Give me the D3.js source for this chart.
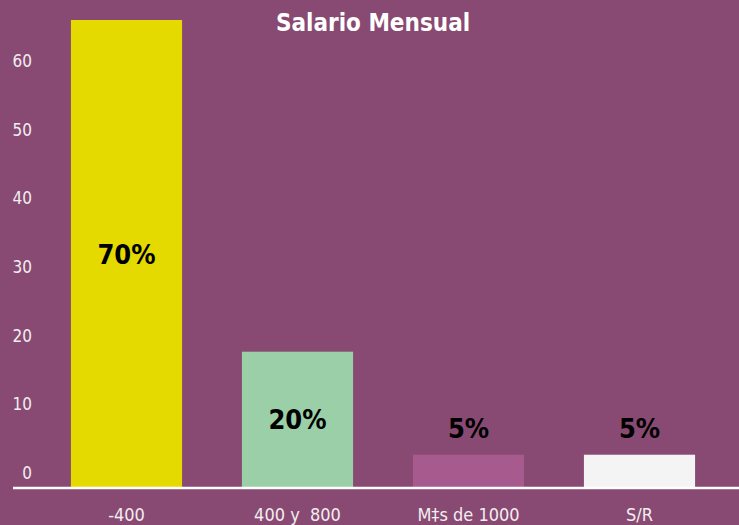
<!DOCTYPE html>
<html>
<head>
<meta charset="utf-8">
<script src="https://cdn.jsdelivr.net/npm/d3@7"></script>
<style>
  html, body { margin: 0; padding: 0; background: #884a72; }
  svg { display: block; font-family: "DejaVu Sans", Roboto, sans-serif; font-stretch: condensed; }
</style>
</head>
<body>
<div class="canvas"></div>
<script>
// data
const categories = ['-400', '400 y  800', 'M\u2021s de 1000', 'S/R'];
const values = [68, 19.7, 4.7, 4.7];
const percentLabels = ['70%', '20%', '5%', '5%'];
const barColors = ['#e5da00', '#9acfa8', '#a65a8e', '#f4f4f4'];
const yTicks = [0, 10, 20, 30, 40, 50, 60];

const width = 739;
const height = 525;

const svg = d3.select('.canvas')
  .append('svg')
  .attr('width', width)
  .attr('height', height);

svg.append('rect')
  .attr('width', width)
  .attr('height', height)
  .attr('fill', '#884a72');

// scales
const x = d3.scaleBand()
  .domain(categories)
  .range([41, 725])
  .paddingInner(0.35)
  .paddingOuter(0.175);

const y = d3.scaleLinear()
  .domain([0, 68])
  .range([487, 20]);

// title
svg.append('text')
  .text('Salario Mensual')
  .attr('x', 373)
  .attr('y', 31)
  .attr('text-anchor', 'middle')
  .attr('fill', '#fff')
  .attr('font-size', 24)
  .attr('font-weight', 'bold');

// bars
svg.selectAll('rect.bar')
  .data(values)
  .enter()
  .append('rect')
  .attr('class', 'bar')
  .attr('x', (d, i) => x(categories[i]))
  .attr('y', d => y(d))
  .attr('width', x.bandwidth())
  .attr('height', d => y(0) - y(d))
  .attr('fill', (d, i) => barColors[i]);

// y axis (labels only, sitting a bit above each tick)
const yAxis = d3.axisLeft(y)
  .tickValues(yTicks)
  .tickSize(0)
  .tickPadding(0);

const yAxisGroup = svg.append('g')
  .attr('class', 'y-axis')
  .attr('transform', 'translate(32, -14)')
  .call(yAxis)
  .attr('font-family', null)
  .attr('font-size', 17);

yAxisGroup.select('.domain').remove();
yAxisGroup.selectAll('text')
  .attr('fill', '#f2eef0');

// x axis
const xAxis = d3.axisBottom(x).tickSize(0).tickPadding(0);

const xAxisGroup = svg.append('g')
  .attr('class', 'x-axis')
  .attr('transform', 'translate(0, 508)')
  .call(xAxis)
  .attr('font-family', null)
  .attr('font-size', 18);

xAxisGroup.select('.domain').remove();
xAxisGroup.selectAll('text')
  .attr('fill', '#f2eef0')
  .style('white-space', 'pre');

// baseline
svg.append('line')
  .attr('x1', 13)
  .attr('x2', width)
  .attr('y1', y(0) + 1)
  .attr('y2', y(0) + 1)
  .attr('stroke', '#fff')
  .attr('stroke-width', 2.5);

// value labels: inside tall bars, above short ones
svg.selectAll('text.value')
  .data(values)
  .enter()
  .append('text')
  .attr('class', 'value')
  .text((d, i) => percentLabels[i])
  .attr('x', (d, i) => x(categories[i]) + x.bandwidth() / 2)
  .attr('y', d => d > 10 ? (y(d) + y(0)) / 2 + 10 : y(d) - 17)
  .attr('text-anchor', 'middle')
  .attr('fill', '#000')
  .attr('font-size', 27)
  .attr('font-weight', 'bold');
</script>
</body>
</html>
